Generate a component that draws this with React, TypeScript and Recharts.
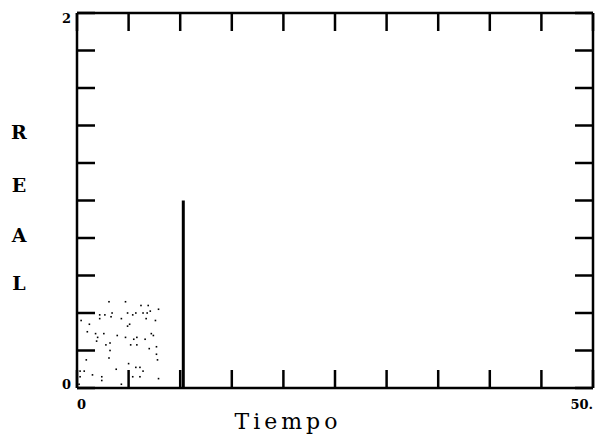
import {
  ComposedChart,
  Label,
  Line,
  Scatter,
  XAxis,
  YAxis,
} from 'recharts'

// tick marks every 5 on time, every 0.2 on REAL
const X_TICKS = [0, 5, 10, 15, 20, 25, 30, 35, 40, 45, 50]
const Y_TICKS = [0, 0.2, 0.4, 0.6, 0.8, 1, 1.2, 1.4, 1.6, 1.8, 2]
const X_LABELS: Record<number, string> = { 0: '0', 50: '50.' }
const Y_LABELS: Record<number, string> = { 0: '0', 2: '2' }

// single pulse at t ~ 10.3 with height 1
const SPIKE_T = [10.3, 10.3]
const SPIKE_V = [0, 1]

// scattered noise dots near the origin (t, v)
const NOISE_T = [
  3.1, 4.7, 6.2, 6.9, 7.9, 2.2, 2.7, 3.4, 4.9, 5.4, 5.7, 6.4, 6.8, 7.1, 0.4, 1.2, 2.2, 3.3, 4.3,
  6.7, 7.6, 5.1, 4.9, 1.0, 1.8, 2.0, 2.6, 3.9, 4.7, 5.5, 5.8, 6.6, 7.2, 7.4, 1.9, 2.8, 3.2, 5.2,
  5.8, 7.0, 7.7, 7.7, 7.8, 3.2, 3.1, 0.9, 5.0, 3.8, 5.7, 6.1, 6.4, 0.3, 0.7, 1.5, 2.4, 2.4, 5.4,
  6.1, 7.9, 0.3, 0.2, 4.3,
]
const NOISE_V = [
  0.46, 0.46, 0.44, 0.44, 0.42, 0.39, 0.39, 0.4, 0.4, 0.39, 0.4, 0.4, 0.4, 0.41, 0.36, 0.34, 0.37,
  0.38, 0.37, 0.37, 0.36, 0.34, 0.33, 0.3, 0.29, 0.27, 0.29, 0.28, 0.27, 0.26, 0.27, 0.26, 0.29,
  0.28, 0.25, 0.23, 0.24, 0.23, 0.23, 0.21, 0.22, 0.18, 0.15, 0.2, 0.16, 0.15, 0.13, 0.1, 0.11,
  0.11, 0.09, 0.09, 0.09, 0.07, 0.06, 0.04, 0.06, 0.06, 0.05, 0.06, 0.02, 0.02,
]

const spike = SPIKE_T.map((t, i) => ({ t, v: SPIKE_V[i] }))
const noise = NOISE_T.map((t, i) => ({ t, v: NOISE_V[i] }))

const INK = '#000'
const SLAB = '"DejaVu Serif", "Liberation Serif", serif'

function XTick(props: any) {
  const label = X_LABELS[props.payload.value]
  if (!label) return <g />
  return (
    <text
      x={props.x}
      y={props.y}
      dy="0.7em"
      textAnchor={props.payload.value === 0 ? 'start' : 'end'}
      fontFamily={SLAB}
      fontWeight="bold"
      fontSize={13}
      fill={INK}
    >
      {label}
    </text>
  )
}

function YTick(props: any) {
  const label = Y_LABELS[props.payload.value]
  if (!label) return <g />
  return (
    <text
      x={props.x}
      y={props.y}
      dy={props.payload.value === 2 ? '0.75em' : '0.1em'}
      textAnchor="end"
      fontFamily={SLAB}
      fontWeight="bold"
      fontSize={13}
      fill={INK}
    >
      {label}
    </text>
  )
}

function Empty() {
  return <g />
}

function Dot(props: any) {
  return <rect x={props.cx - 0.8} y={props.cy - 0.8} width={1.6} height={1.6} fill={INK} />
}

function VerticalTitle() {
  const letters = ['R', 'E', 'A', 'L']
  const ys = [132, 185, 235, 283]
  return (
    <g>
      {letters.map((c, i) => (
        <text
          key={c}
          x={19}
          y={ys[i]}
          dy="0.35em"
          textAnchor="middle"
          fontFamily={SLAB}
          fontWeight="bold"
          fontSize={19}
          fill={INK}
        >
          {c}
        </text>
      ))}
    </g>
  )
}

function XTitle() {
  return (
    <text
      x={288}
      y={429}
      textAnchor="middle"
      fontFamily={SLAB}
      fontSize={22}
      letterSpacing={4}
      fill={INK}
    >
      Tiempo
    </text>
  )
}

export default function App() {
  return (
    <div style={{ position: 'absolute', left: 0, top: 0, background: '#fff' }}>
      <ComposedChart width={597} height={440} margin={{ top: 12, right: 0, bottom: 0, left: 0 }}>
        <XAxis
          xAxisId="b"
          dataKey="t"
          type="number"
          orientation="bottom"
          domain={[0, 50]}
          ticks={X_TICKS}
          height={52}
          tickSize={-18}
          tickMargin={30}
          tick={XTick}
          interval={0}
          stroke={INK}
          strokeWidth={2.5}
          allowDataOverflow
        >
          <Label content={XTitle} />
        </XAxis>
        <XAxis
          xAxisId="t"
          dataKey="t"
          type="number"
          orientation="top"
          domain={[0, 50]}
          ticks={X_TICKS}
          height={1}
          tickSize={-18}
          tick={Empty}
          interval={0}
          stroke={INK}
          strokeWidth={2.5}
          allowDataOverflow
        />
        <YAxis
          yAxisId="l"
          dataKey="v"
          type="number"
          orientation="left"
          domain={[0, 2]}
          ticks={Y_TICKS}
          width={77}
          tickSize={-18}
          tickMargin={24}
          tick={YTick}
          interval={0}
          stroke={INK}
          strokeWidth={2.5}
          allowDataOverflow
        >
          <Label content={VerticalTitle} />
        </YAxis>
        <YAxis
          yAxisId="r"
          dataKey="v"
          type="number"
          orientation="right"
          domain={[0, 2]}
          ticks={Y_TICKS}
          width={4}
          tickSize={-18}
          tick={Empty}
          interval={0}
          stroke={INK}
          strokeWidth={2.5}
          allowDataOverflow
        />
        <Scatter
          xAxisId="b"
          yAxisId="l"
          data={noise}
          shape={Dot}
          isAnimationActive={false}
        />
        <Line
          xAxisId="t"
          yAxisId="r"
          data={spike}
          dataKey="v"
          stroke={INK}
          strokeWidth={3}
          dot={false}
          isAnimationActive={false}
        />
      </ComposedChart>
    </div>
  )
}
